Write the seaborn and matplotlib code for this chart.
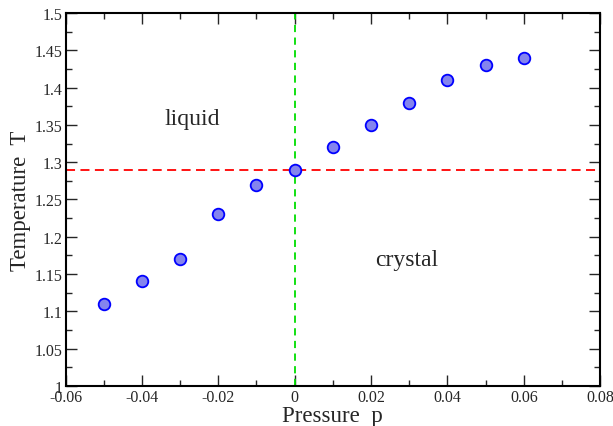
import numpy as np
import pandas as pd
import seaborn as sns
import matplotlib.pyplot as plt
from matplotlib.ticker import MultipleLocator

pressure = [-0.05, -0.04, -0.03, -0.02, -0.01, 0.0, 0.01, 0.02, 0.03, 0.04, 0.05, 0.06]
temperature = [1.11, 1.14, 1.17, 1.23, 1.27, 1.29, 1.32, 1.35, 1.38, 1.41, 1.43, 1.44]
p_coex = 0.0
t_coex = 1.29

df = pd.DataFrame({"p": pressure, "T": temperature})

sns.set_style("ticks")
plt.rcParams['font.family'] = ['Liberation Serif', 'DejaVu Serif']

fig = plt.figure(figsize=(6.13, 4.27), dpi=100)
ax = fig.add_axes([0.107, 0.094, 0.872, 0.873])

ax.axvline(p_coex, color='#00dd00', ls=(0, (4, 3)), lw=1.3, zorder=1)
ax.axhline(t_coex, color='#ff0000', ls=(0, (5, 3)), lw=1.3, zorder=1)

sns.scatterplot(data=df, x="p", y="T", ax=ax, s=70, color='#8484ee',
                edgecolor='#0000ff', linewidth=1.3, zorder=3)

ax.set_xlim(-0.06, 0.08)
ax.set_ylim(1.0, 1.5)
ax.xaxis.set_minor_locator(MultipleLocator(0.01))
ax.yaxis.set_minor_locator(MultipleLocator(0.025))
ax.set_xticks(np.arange(-0.06, 0.081, 0.02))
ax.set_xticklabels(['-0.06', '-0.04', '-0.02', '0', '0.02', '0.04', '0.06', '0.08'])
ax.set_yticks(np.arange(1.0, 1.501, 0.05))
ax.set_yticklabels(['1', '1.05', '1.1', '1.15', '1.2', '1.25', '1.3', '1.35', '1.4', '1.45', '1.5'])

ax.tick_params(which='both', direction='in', top=True, right=True, labelsize=11.5, pad=2)
ax.tick_params(which='major', length=8, width=1)
ax.tick_params(which='minor', length=4, width=1)
for s in ax.spines.values():
    s.set_linewidth(1.5)
    s.set_color('black')

ax.set_xlabel("Pressure  p", fontsize=16.5, labelpad=0)
ax.set_ylabel("Temperature  T", fontsize=16.5, labelpad=3)

ax.text(-0.034, 1.358, "liquid", fontsize=17, ha='left', va='center')
ax.text(0.021, 1.17, "crystal", fontsize=17, ha='left', va='center')

fig.savefig("out.png", dpi=100)
